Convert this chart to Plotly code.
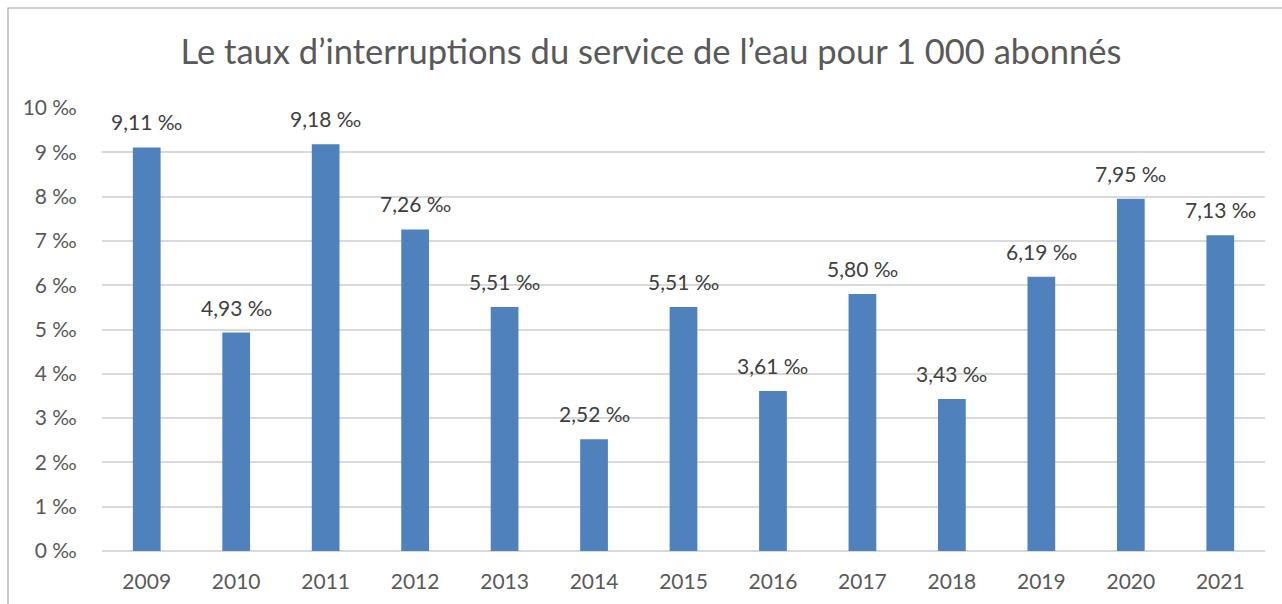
import plotly.graph_objects as go

years = ["2009", "2010", "2011", "2012", "2013", "2014", "2015",
         "2016", "2017", "2018", "2019", "2020", "2021"]
taux = [9.11, 4.93, 9.18, 7.26, 5.51, 2.52, 5.51, 3.61, 5.80, 3.43, 6.19, 7.95, 7.13]
y_ticks = list(range(0, 11))
y_tick_text = [f"{t} \u2030" for t in y_ticks]

title_text = "Le taux d\u2019interruptions du service de l\u2019eau pour 1 000 abonnés"
labels = [f"{v:.2f}".replace(".", ",") + " \u2030" for v in taux]

W, H = 1282, 604
ML, MR, MT, MB = 102, 17, 108, 53
FONT = "Lato, Open Sans, sans-serif"

fig = go.Figure()
fig.add_trace(go.Bar(
    x=years, y=taux,
    marker=dict(color="#4F81BD", line=dict(width=0)),
    hoverinfo="skip",
))

# value labels above each bar (category index on the x axis)
for i, (v, lab) in enumerate(zip(taux, labels)):
    fig.add_annotation(
        x=i, y=v, xref="x", yref="y", text=lab, showarrow=False,
        yanchor="bottom", yshift=11,
        font=dict(family=FONT, size=21, color="#404040"),
    )

# chart frame, drawn in plot-area fractions
pw, ph = W - ML - MR, H - MT - MB
fig.add_shape(
    type="rect", xref="paper", yref="paper",
    x0=(8 - ML) / pw, x1=(W + 10 - ML) / pw,
    y0=1 - (H + 10 - MT) / ph, y1=1 + (MT - 8) / ph,
    line=dict(color="#A6A6A6", width=1.2),
    fillcolor="rgba(0,0,0,0)", layer="below",
)

fig.update_layout(
    width=W, height=H,
    margin=dict(l=ML, r=MR, t=MT, b=MB),
    paper_bgcolor="white", plot_bgcolor="white",
    showlegend=False,
    title=dict(
        text=title_text, xref="container", x=651 / W, xanchor="center",
        yref="container", y=1 - 52 / H, yanchor="middle",
        font=dict(family=FONT, size=34.5, color="#595959"),
    ),
    bargap=0.69,
    xaxis=dict(
        type="category", range=[-0.5, len(years) - 0.5],
        showgrid=False, showline=False,
        ticks="outside", ticklen=12, tickcolor="white",
        tickfont=dict(family=FONT, size=21, color="#595959"),
    ),
    yaxis=dict(
        range=[0, 10], tickmode="array", tickvals=y_ticks, ticktext=y_tick_text,
        showgrid=True, gridcolor="#D9D9D9", gridwidth=1.5,
        zeroline=True, zerolinecolor="#D9D9D9", zerolinewidth=1.5,
        showline=False, ticks="outside", ticklen=20, tickcolor="white",
        tickfont=dict(family=FONT, size=21, color="#595959"),
    ),
)

fig.write_html("out.html")
